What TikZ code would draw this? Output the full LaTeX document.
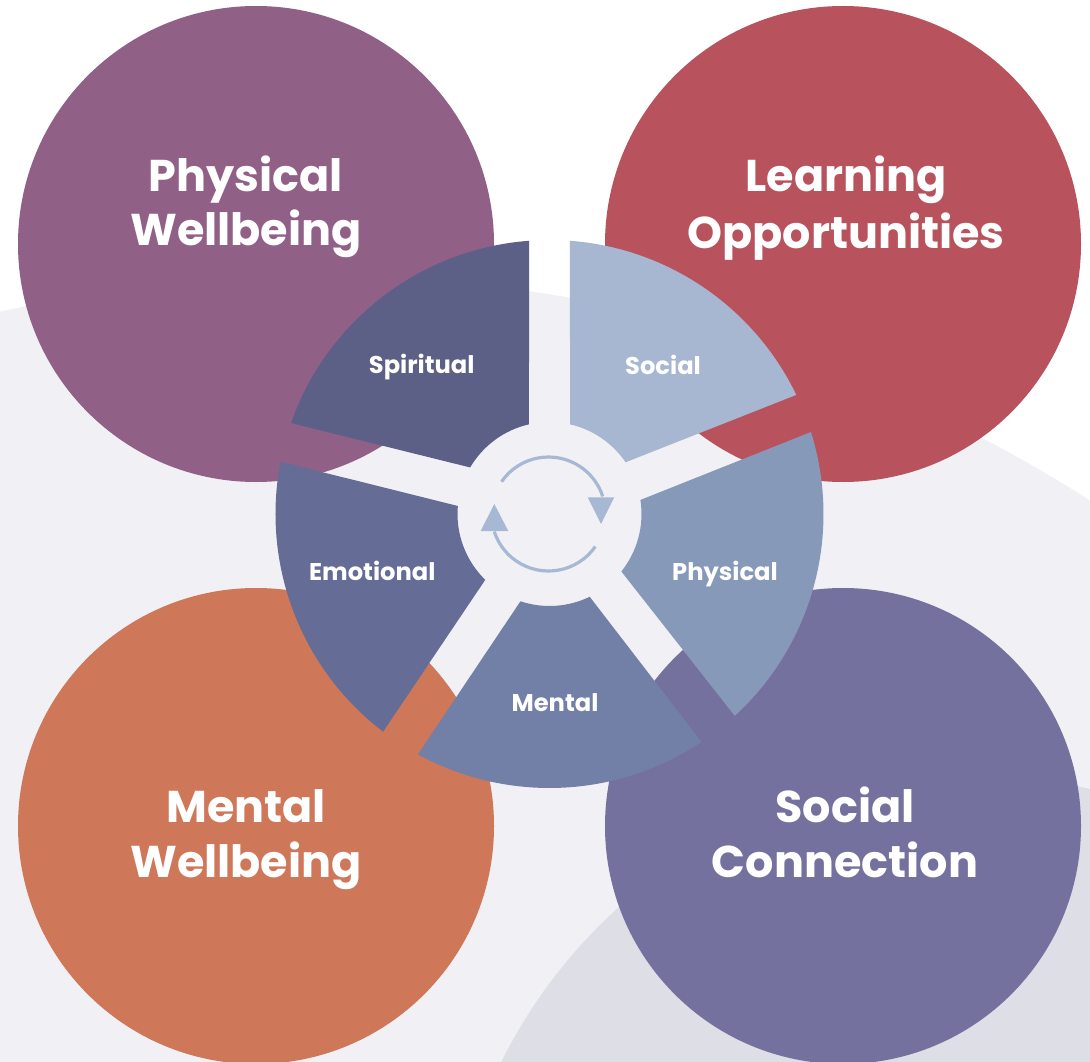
\documentclass[tikz,border=0pt]{standalone}
\usepackage{fontspec}
\setmainfont{Poppins}
\definecolor{bgA}{HTML}{F1F1F5}
\definecolor{bgB}{HTML}{DEDEE6}
\definecolor{cPW}{HTML}{916087}
\definecolor{cLO}{HTML}{B8535D}
\definecolor{cMW}{HTML}{CE7759}
\definecolor{cSC}{HTML}{75719E}
\definecolor{wSpi}{HTML}{5C5F86}
\definecolor{wSoc}{HTML}{A7B7D2}
\definecolor{wPhy}{HTML}{8799B9}
\definecolor{wMen}{HTML}{7280A8}
\definecolor{wEmo}{HTML}{656C95}
\definecolor{arr}{HTML}{A7B8D4}
\begin{document}
\begin{tikzpicture}[x=1pt,y=1pt,
  bigtxt/.style={text=white, font=\fontsize{44.5}{55}\selectfont\bfseries, anchor=base, inner sep=0pt},
  smalltxt/.style={text=white, font=\fontsize{24.2}{28}\selectfont\bfseries, anchor=base, inner sep=0pt},
  arrline/.style={draw=arr, line width=3.2pt},
  arrhead/.style={fill=arr}]
\useasboundingbox (0,0) rectangle (1090,-1062);
\fill[white] (0,0) rectangle (1090,-1062);
\begin{scope}
  \clip (0,0) rectangle (1090,-1062);
  \fill[bgA] (319.6,-1709) circle[radius=1433];
  \fill[bgB] (965.5,-1292) circle[radius=518];
\end{scope}
% big circles
\fill[cPW] (256,-244) circle[radius=238];
\fill[cLO] (843,-244) circle[radius=238];
\fill[cMW] (256,-826) circle[radius=238];
\fill[cSC] (843,-826) circle[radius=238];
\node[bigtxt] (pw1) at (246,-192) {Physical};
\node[bigtxt] (pw2) at (246,-245) {Wellbeing};
\node[bigtxt] (lo1) at (846,-192) {Learning};
\node[bigtxt] (lo2) at (846,-248) {Opportunities};
\node[bigtxt] (mw1) at (246,-822) {Mental};
\node[bigtxt] (mw2) at (246,-877) {Wellbeing};
\node[bigtxt] (sc1) at (845,-822) {Social};
\node[bigtxt] (sc2) at (845,-877) {Connection};
% wedges
\begin{scope}[shift={(549.5,-514)}]
  \fill[wSpi] (94.28:274) arc[start angle=94.28, end angle=160.6, radius=274]
     -- (149.6:92) arc[start angle=149.6, end angle=102.9, radius=92] -- cycle;
  \fill[wSoc] (85.72:274) arc[start angle=85.72, end angle=25.77, radius=274]
     -- (34.2:92) arc[start angle=34.2, end angle=77.1, radius=92] -- cycle;
  \fill[wPhy] (17.41:274) arc[start angle=17.41, end angle=-47.45, radius=274]
     -- (-38.66:92) arc[start angle=-38.66, end angle=8.8, radius=92] -- cycle;
  \fill[wMen] (-56.3:274) arc[start angle=-56.3, end angle=-118.7, radius=274]
     -- (-108.4:92) arc[start angle=-108.4, end angle=-64.1, radius=92] -- cycle;
  \fill[wEmo] (-127.4:274) arc[start angle=-127.4, end angle=-191.0, radius=274]
     -- (-185:92) arc[start angle=-185, end angle=-134.3, radius=92] -- cycle;
\end{scope}
\node[smalltxt] (spi) at (421.7,-373.3) {Spiritual};
\node[smalltxt] (soc) at (663,-374) {Social};
\node[smalltxt] (phy) at (725,-580.7) {Physical};
\node[smalltxt] (men) at (555,-711.7) {Mental};
\node[smalltxt] (emo) at (372.3,-580.7) {Emotional};
% cycle arrows
\begin{scope}[shift={(548.5,-514)}]
  \draw[arrline] (145.5:57) arc[start angle=145.5, end angle=18, radius=57];
  \draw[arrline] (-34.8:57) arc[start angle=-34.8, end angle=-162, radius=57];
\end{scope}
\fill[arrhead] (587.7,-497.3) -- (614.3,-497.3) -- (601,-524) -- cycle;
\fill[arrhead] (480.7,-531) -- (508.3,-531) -- (494.3,-504) -- cycle;
\end{tikzpicture}
\end{document}
